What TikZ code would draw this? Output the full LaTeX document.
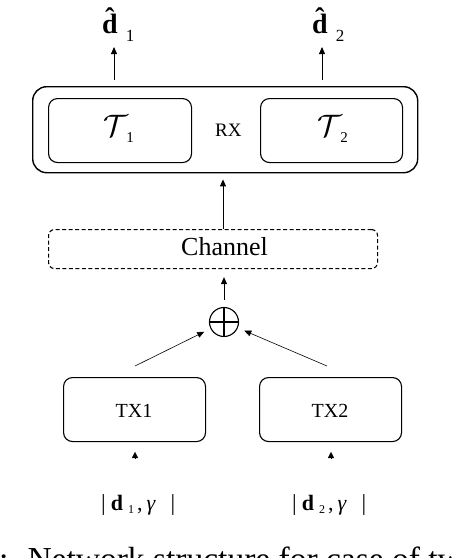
\RequirePackage{fix-cm}
\documentclass[tikz,border=0pt]{standalone}
\usepackage{fontspec}
\setmainfont{Liberation Serif}
\usetikzlibrary{arrows.meta}
\newcommand{\tallbar}{{\fontsize{23}{24}\selectfont |}}
\begin{document}
\begin{tikzpicture}[x=1pt,y=-1pt,
  outerbox/.style={draw, line width=1.4pt, rounded corners=14pt, anchor=north west, inner sep=0pt},
  innerbox/.style={draw, line width=1.1pt, rounded corners=9pt, anchor=north west, inner sep=0pt},
  chanbox/.style={draw, line width=1.1pt, dash pattern=on 4pt off 2.5pt, rounded corners=6pt, anchor=north west, inner sep=0pt},
  arr/.style={-{Triangle[length=7pt,width=6pt]}, line width=0.9pt},
  thinarr/.style={-{Triangle[length=7pt,width=6pt]}, line width=0.6pt},
  tiptri/.style={-{Triangle[length=6pt,width=6pt]}, line width=0.2pt},
  lbl/.style={inner sep=0pt, anchor=base west},
]
\useasboundingbox (0,0) rectangle (452,558);

% receiver
\node[outerbox, minimum width=385pt, minimum height=86pt] (rx) at (32,86) {};
\node[innerbox, minimum width=143pt, minimum height=64pt] (t1) at (48,98) {};
\node[innerbox, minimum width=142pt, minimum height=64pt] (t2) at (260,98) {};
\node[lbl, font=\fontsize{19}{20}\selectfont] (rxl) at (215,136) {RX};
\node[lbl] (t1l) at (103,136) {{\fontsize{31}{34}\selectfont$\mathcal{T}$}\hspace{-1.5pt}\raisebox{-6pt}{\fontsize{15}{16}\selectfont 1}};
\node[lbl] (t2l) at (317,136) {{\fontsize{31}{34}\selectfont$\mathcal{T}$}\hspace{-1.5pt}\raisebox{-6pt}{\fontsize{15}{16}\selectfont 2}};

% outputs
\node[lbl] (dh1) at (102,33) {{\fontsize{28}{30}\selectfont\bfseries \^{d}}\hspace{8pt}\raisebox{-8pt}{\fontsize{17}{18}\selectfont 1}};
\node[lbl] (dh2) at (312,33) {{\fontsize{28}{30}\selectfont\bfseries \^{d}}\hspace{8pt}\raisebox{-8pt}{\fontsize{17}{18}\selectfont 2}};
\coordinate (a1t) at (114,47);
\coordinate (a2t) at (322,47);
\draw[arr, shorten <=6pt] (rx.north -| a1t) -- (a1t);
\draw[arr, shorten <=6pt] (rx.north -| a2t) -- (a2t);

% channel
\node[chanbox, minimum width=329pt, minimum height=39pt] (ch) at (48,229) {};
\node[lbl, font=\fontsize{26}{30}\selectfont] (chl) at (181,255) {Channel};
\coordinate (cx) at (223,0);
\draw[arr, shorten >=6pt] (ch.north -| cx) -- (rx.south -| cx);

% sum
\node[draw, circle, line width=1.1pt, minimum size=29pt, inner sep=0pt] (sum) at (224,322) {};
\draw[line width=1.1pt] (sum.north) -- (sum.south) (sum.west) -- (sum.east);
\draw[arr, shorten <=7pt, shorten >=8pt] (sum.north) -- (ch.south -| sum.north);

% transmitters
\node[innerbox, minimum width=142pt, minimum height=64pt] (tx1) at (63,377) {};
\node[innerbox, minimum width=142pt, minimum height=64pt] (tx2) at (259,377) {};
\node[inner sep=0pt, anchor=base, font=\fontsize{20}{22}\selectfont] (tx1l) at (134,417) {TX1};
\node[inner sep=0pt, anchor=base, font=\fontsize{20}{22}\selectfont] (tx2l) at (330,417) {TX2};
\coordinate (s1) at (135,366);
\coordinate (s2) at (327,366);
\draw[thinarr, shorten >=7pt] (s1) -- (sum);
\draw[thinarr, shorten >=7pt] (s2) -- (sum);

% inputs
\node[lbl, font=\fontsize{22}{24}\selectfont] (in1) at (101,510) {\tallbar\hspace{5pt}\textbf{d}\hspace{5pt}\raisebox{-3pt}{\fontsize{12}{13}\selectfont 1}\hspace{3pt},\hspace{4pt}\textit{γ}\hspace{15pt}\tallbar};
\node[lbl, font=\fontsize{22}{24}\selectfont] (in2) at (292,510) {\tallbar\hspace{5pt}\textbf{d}\hspace{5pt}\raisebox{-3pt}{\fontsize{12}{13}\selectfont 2}\hspace{3pt},\hspace{4pt}\textit{γ}\hspace{15pt}\tallbar};
\coordinate (b1) at (135,459);
\coordinate (b1t) at (135,452);
\coordinate (b2) at (331,459);
\coordinate (b2t) at (331,452);
\draw[tiptri] (b1) -- (b1t);
\draw[tiptri] (b2) -- (b2t);

% caption (cut off)
\node[lbl, font=\fontsize{33.5}{36}\selectfont] (cap) at (-1,570) {:\hspace{19pt}Network structure for case of tw};
\end{tikzpicture}
\end{document}
